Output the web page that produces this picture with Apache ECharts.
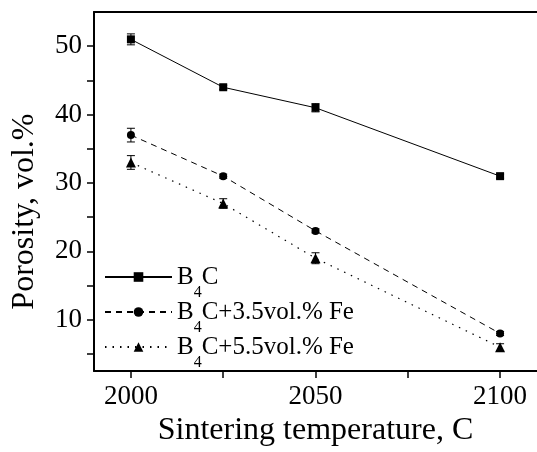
<!DOCTYPE html>
<html>
<head>
<meta charset="utf-8">
<script src="https://cdn.jsdelivr.net/npm/echarts@6/dist/echarts.min.js"></script>
<style>
html,body{margin:0;padding:0;background:#fff;}
#chart{width:537px;height:452px;}
</style>
</head>
<body>
<div id="chart"></div>
<script>
// ---- data ----
var temperatures = [2000, 2025, 2050, 2100];
var seriesNames = ['B4C', 'B4C+3.5vol.% Fe', 'B4C+5.5vol.% Fe'];
var porosityB4C = [51, 44, 41, 31];
var porosityFe35 = [37, 31, 23, 8];
var porosityFe55 = [33, 27, 19, 6];
var errB4C = [0.8, 0.3, 0.6, 0.3];
var errFe35 = [1.0, 0.3, 0.3, 0.3];
var errFe55 = [1.0, 0.7, 0.8, 0.5];
var xTickValues = [2000, 2025, 2050, 2075, 2100];
var xLabelValues = [2000, 2050, 2100];
var yTickValues = [5, 10, 15, 20, 25, 30, 35, 40, 45, 50];
var yLabelValues = [10, 20, 30, 40, 50];

var FONT = 'Liberation Serif';

function pairs(vals) {
  return temperatures.map(function (t, i) { return [t, vals[i]]; });
}
function errData(vals, errs) {
  return temperatures.map(function (t, i) { return [t, vals[i], errs[i]]; });
}

function errRender(params, api) {
  var x = api.value(0), y = api.value(1), e = api.value(2);
  var top = api.coord([x, y + e]);
  var bot = api.coord([x, y - e]);
  var cap = 4;
  var st = { stroke: '#000', lineWidth: 1 };
  return {
    type: 'group',
    children: [
      { type: 'line', shape: { x1: top[0], y1: top[1], x2: bot[0], y2: bot[1] }, style: st },
      { type: 'line', shape: { x1: top[0] - cap, y1: top[1], x2: top[0] + cap, y2: top[1] }, style: st },
      { type: 'line', shape: { x1: bot[0] - cap, y1: bot[1], x2: bot[0] + cap, y2: bot[1] }, style: st }
    ]
  };
}

function legendFmt(name) {
  var rest = name.slice(3);
  return '{n|B}{s|4}{n|C' + rest + '}';
}

var chart = echarts.init(document.getElementById('chart'), null, { renderer: 'canvas' });

var lineCommon = {
  type: 'line',
  color: '#000',
  z: 3
};

var XMIN = 1990, XMAX = 2110;

chart.setOption({
  animation: false,
  backgroundColor: '#fff',
  grid: {
    left: 94, right: 0, top: 12, bottom: 76
  },
  legend: {
    orient: 'vertical',
    left: 104, top: 253,
    padding: 0,
    itemGap: -13,
    itemWidth: 67, itemHeight: 12,
    data: seriesNames,
    formatter: legendFmt,
    textStyle: {
      color: '#000',
      fontFamily: FONT,
      rich: {
        n: { fontSize: 25, fontFamily: FONT, color: '#000', lineHeight: 28 },
        s: { fontSize: 16, fontFamily: FONT, color: '#000', lineHeight: 28, padding: [32, 0, 0, 0] }
      }
    }
  },
  xAxis: [{
    type: 'value',
    min: XMIN, max: XMAX,
    name: 'Sintering temperature, C',
    nameLocation: 'middle',
    nameGap: 38,
    nameTextStyle: { fontFamily: FONT, fontSize: 32, color: '#000' },
    axisLine: { show: true, lineStyle: { color: '#000', width: 2 } },
    axisTick: { show: true, inside: false, length: 7, customValues: xTickValues, lineStyle: { color: '#000', width: 1.5 } },
    axisLabel: { customValues: xLabelValues, margin: 12, fontFamily: FONT, fontSize: 27, color: '#000',
      formatter: function (v) { return String(v); } },
    splitLine: { show: false }
  }, {
    type: 'value',
    position: 'top',
    min: XMIN, max: XMAX,
    axisLine: { show: true, lineStyle: { color: '#000', width: 2 } },
    axisTick: { show: false },
    axisLabel: { show: false },
    splitLine: { show: false }
  }],
  yAxis: {
    type: 'value',
    min: 2.5, max: 55,
    name: 'Porosity, vol.%',
    nameLocation: 'middle',
    nameGap: 53,
    nameTextStyle: { fontFamily: FONT, fontSize: 32, color: '#000', padding: [0, 40, 0, 0] },
    axisLine: { show: true, lineStyle: { color: '#000', width: 2 } },
    axisTick: { show: true, inside: false, length: 7, customValues: yTickValues, lineStyle: { color: '#000', width: 1.5 } },
    axisLabel: { customValues: yLabelValues, margin: 12, fontFamily: FONT, fontSize: 27, color: '#000',
      formatter: function (v) { return String(v); } },
    splitLine: { show: false }
  },
  series: [
    Object.assign({}, lineCommon, {
      name: seriesNames[0], data: pairs(porosityB4C),
      symbol: 'rect', symbolSize: 8,
      lineStyle: { color: '#000', width: 1, type: 'solid' },
      itemStyle: { color: '#000' }
    }),
    Object.assign({}, lineCommon, {
      name: seriesNames[1], data: pairs(porosityFe35),
      symbol: 'circle', symbolSize: 8,
      lineStyle: { color: '#000', width: 1, type: [6, 5] },
      itemStyle: { color: '#000' }
    }),
    Object.assign({}, lineCommon, {
      name: seriesNames[2], data: pairs(porosityFe55),
      symbol: 'triangle', symbolSize: 10,
      lineStyle: { color: '#000', width: 1.2, type: [1.5, 6] },
      itemStyle: { color: '#000' }
    }),
    { type: 'custom', name: 'errB4C', renderItem: errRender, data: errData(porosityB4C, errB4C), z: 2 },
    { type: 'custom', name: 'errFe35', renderItem: errRender, data: errData(porosityFe35, errFe35), z: 2 },
    { type: 'custom', name: 'errFe55', renderItem: errRender, data: errData(porosityFe55, errFe55), z: 2 }
  ]
});
</script>
</body>
</html>
